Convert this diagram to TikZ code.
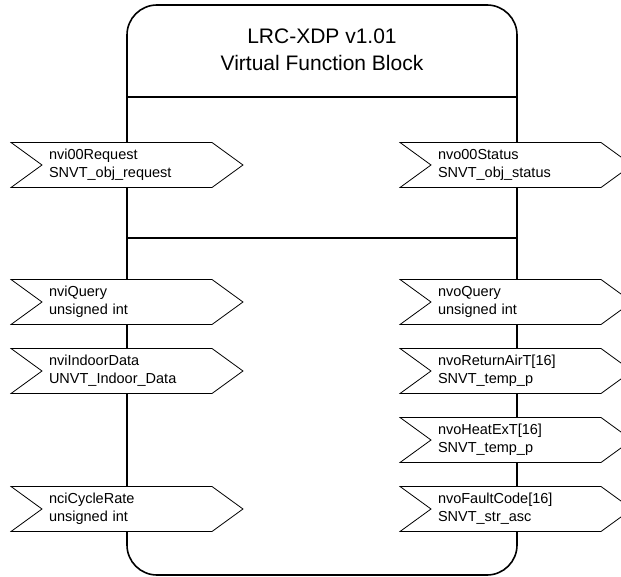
\documentclass[tikz,border=0pt]{standalone}
\usepackage{fontspec}
\setmainfont{Liberation Sans}
\usetikzlibrary{shapes.symbols}
\tikzset{
  nvtag/.style={signal, signal from=west, signal to=east, signal pointer angle=72,
    draw, fill=white, line width=0.8pt, minimum width=230pt, minimum height=45pt,
    text width=156pt, inner xsep=7pt, inner ysep=0pt, align=left,
    font=\fontsize{14.5}{18}\selectfont},
  blockline/.style={line width=1.6pt}
}

\begin{document}
\begin{tikzpicture}[x=1pt,y=-1pt]
    \useasboundingbox (0,0) rectangle (621,577);
    % function block outline
    \node[draw,blockline,rounded corners=30pt,minimum width=390pt,minimum height=570pt] (vfb) at (322,290) {};
    \node[align=center,font=\fontsize{21}{27}\selectfont] (title) at (322,50) {LRC-XDP v1.01\\Virtual Function Block};
    \coordinate (sepA) at (0,97);
    \coordinate (sepB) at (0,238);
    \draw[blockline] (vfb.west |- sepA) -- (vfb.east |- sepA);
    \draw[blockline] (vfb.west |- sepB) -- (vfb.east |- sepB);
    % inputs
    \node[nvtag] (nviRequest) at (127,165) {nvi00Request\\SNVT\_obj\_request};
    \node[nvtag] (nviQuery) at (127,302) {nviQuery\\unsigned int};
    \node[nvtag] (nviIndoor) at (127,371) {nviIndoorData\\UNVT\_Indoor\_Data};
    \node[nvtag] (nciCycle) at (127,509) {nciCycleRate\\unsigned int};
    % outputs
    \node[nvtag] (nvoStatus) at (516,165) {nvo00Status\\SNVT\_obj\_status};
    \node[nvtag] (nvoQuery) at (516,302) {nvoQuery\\unsigned int};
    \node[nvtag] (nvoReturnAir) at (516,371) {nvoReturnAirT[16]\\SNVT\_temp\_p};
    \node[nvtag] (nvoHeatEx) at (516,440) {nvoHeatExT[16]\\SNVT\_temp\_p};
    \node[nvtag] (nvoFault) at (516,509) {nvoFaultCode[16]\\SNVT\_str\_asc};
\end{tikzpicture}
\end{document}
